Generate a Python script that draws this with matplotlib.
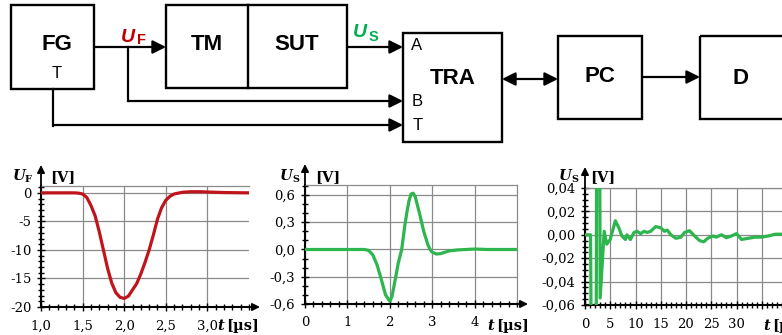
import numpy as np
import matplotlib.pyplot as plt
from matplotlib.ticker import MultipleLocator
from matplotlib.patches import Rectangle

W, H = 782, 335

# --- data ---
uf_t = [1.0, 1.4, 1.45, 1.5, 1.55, 1.6, 1.65, 1.7, 1.75, 1.8, 1.85, 1.9, 1.95, 2.0,
        2.05, 2.1, 2.15, 2.2, 2.25, 2.3, 2.35, 2.4, 2.45, 2.5, 2.55, 2.6, 2.7, 2.8,
        2.9, 3.0, 3.2, 3.5]
uf_v = [0.0, 0.0, -0.05, -0.2, -0.8, -2.2, -4.0, -6.8, -10.0, -13.2, -15.8, -17.5,
        -18.3, -18.5, -18.1, -17.0, -15.9, -14.2, -12.2, -10.0, -7.4, -4.6, -2.6,
        -1.3, -0.6, -0.2, 0.1, 0.2, 0.2, 0.15, 0.05, 0.0]

us_t = [0.0, 1.4, 1.5, 1.6, 1.7, 1.8, 1.9, 2.0, 2.05, 2.1, 2.2, 2.28, 2.35, 2.4, 2.45,
        2.5, 2.55, 2.6, 2.7, 2.8, 2.9, 2.95, 3.0, 3.1, 3.2, 3.3, 3.4, 3.6, 3.8, 4.0,
        4.3, 5.0]
us_v = [0.0, 0.0, -0.01, -0.06, -0.17, -0.33, -0.50, -0.57, -0.52, -0.40, -0.15, 0.0,
        0.25, 0.40, 0.53, 0.61, 0.62, 0.58, 0.40, 0.20, 0.05, 0.0, -0.03, -0.05,
        -0.045, -0.03, -0.015, -0.005, 0.0, 0.005, 0.0, 0.0]

us2_t = [0.0, 1.1, 1.5, 2.0, 2.55, 3.0, 3.8, 4.3, 5.0, 6.0, 6.7, 7.3, 8.0, 8.3, 9.0,
         9.7, 10.3, 11.0, 11.7, 12.3, 13.0, 14.0, 15.0, 15.7, 16.3, 17.0, 18.0, 19.0,
         19.7, 20.7, 21.7, 22.7, 23.5, 24.3, 25.3, 26.0, 27.0, 28.0, 29.0, 30.0, 31.0,
         32.3, 33.7, 35.0, 36.3, 37.7, 39.0, 40.0]
us2_v = [0.0, 0.0, -0.3, -0.57, 0.62, -0.054, 0.003, -0.008, -0.004, 0.012, 0.006,
         -0.001, -0.004, 0.0, -0.004, 0.002, 0.003, 0.001, 0.003, 0.002, 0.003, 0.007,
         0.006, 0.003, 0.004, 0.0, -0.003, -0.002, 0.002, 0.0035, -0.001, -0.005,
         -0.006, -0.003, -0.001, -0.002, 0.0, -0.0025, -0.001, 0.001, -0.004, -0.003,
         -0.002, -0.002, -0.001, 0.0005, 0.0005, 0.0]

uf_xticks = [1.0, 1.5, 2.0, 2.5, 3.0]
uf_yticks = [-20, -15, -10, -5, 0]
us_xticks = [0, 1, 2, 3, 4]
us_yticks = [-0.6, -0.3, 0.0, 0.3, 0.6]
us2_xticks = [0, 5, 10, 15, 20, 25, 30, 35]
us2_yticks = [-0.06, -0.04, -0.02, 0.0, 0.02, 0.04]

RED = '#c00000'
GREEN = '#00b050'
CRED = '#c0141c'
CGREEN = '#2db54e'
SERIF = 'DejaVu Serif'


def comma(v, nd):
    s = f'{v:.{nd}f}'.replace('.', ',')
    if s.startswith('-') and float(s[1:].replace(',', '.')) == 0:
        s = s[1:]
    return s


fig = plt.figure(figsize=(W / 100, H / 100), dpi=100)


def chart(box, xlim, ylim, xt, yt, xminor, yminor, xlab, ylab, t, v, color, lw,
          right_spine=False, xarrow=True):
    l, r, top, bot = box
    ax = fig.add_axes([l / W, (H - bot) / H, (r - l) / W, (bot - top) / H])
    ax.set_facecolor('none')
    ax.plot(t, v, color=color, lw=lw, zorder=3, solid_joinstyle='round')
    ax.set_xlim(*xlim)
    ax.set_ylim(*ylim)
    ax.set_xticks(xt)
    ax.set_xticklabels(xlab, fontfamily=SERIF)
    ax.set_yticks(yt)
    ax.set_yticklabels(ylab, fontfamily=SERIF)
    ax.xaxis.set_minor_locator(MultipleLocator(xminor))
    ax.yaxis.set_minor_locator(MultipleLocator(yminor))
    ax.grid(True, which='major', color='#8a8a8a', lw=0.9)
    for s in ['left', 'bottom']:
        ax.spines[s].set_linewidth(1.5)
        ax.spines[s].set_color('black')
    ax.spines['top'].set_color('#8a8a8a')
    ax.spines['top'].set_linewidth(0.9)
    ax.spines['right'].set_visible(right_spine)
    ax.spines['right'].set_color('#8a8a8a')
    ax.spines['right'].set_linewidth(0.9)
    ax.tick_params(which='both', direction='inout', color='black', width=1,
                   top=False, right=False)
    ax.tick_params(which='major', length=6, labelsize=9.5, pad=4)
    ax.tick_params(axis='x', which='major', pad=6)
    ax.tick_params(which='minor', length=5)
    ax.set_axisbelow(True)
    ap = dict(arrowstyle='-|>', color='black', lw=1.3, mutation_scale=11,
              shrinkA=0, shrinkB=0)
    ax.annotate('', xy=(0, 1 + 21 / (bot - top)), xytext=(0, 1),
                xycoords='axes fraction', arrowprops=ap, annotation_clip=False)
    if xarrow:
        ax.annotate('', xy=(1 + 11 / (r - l), 0), xytext=(1, 0),
                    xycoords='axes fraction', arrowprops=ap, annotation_clip=False)
    return ax


chart((41, 249, 186, 307), (1.0, 3.5), (-20, 1.2), uf_xticks, uf_yticks, 0.1, 1,
      [comma(x, 1) for x in uf_xticks], [str(y) for y in uf_yticks],
      uf_t, uf_v, CRED, 2.3)
chart((305, 517, 185, 304), (0, 5), (-0.6, 0.71), us_xticks, us_yticks, 0.2, 0.1,
      [str(x) for x in us_xticks], [comma(y, 1) for y in us_yticks],
      us_t, us_v, CGREEN, 2.3, right_spine=True)
chart((585, 787, 188, 305), (0, 40), (-0.06, 0.04), us2_xticks, us2_yticks, 1, 0.005,
      [str(x) if x < 35 else '' for x in us2_xticks], [comma(y, 2) for y in us2_yticks],
      us2_t, us2_v, CGREEN, 2.3, xarrow=False)

# --- block diagram and labels in pixel coordinates ---
dg = fig.add_axes([0, 0, 1, 1])
dg.set_xlim(0, W)
dg.set_ylim(H, 0)
dg.axis('off')
dg.set_facecolor('none')

for x0, y0, x1, y1 in [(11, 5, 94, 89), (166, 5, 347, 88), (403, 33, 502, 142),
                       (558, 36, 642, 119), (700, 36, 800, 119)]:
    dg.add_patch(Rectangle((x0, y0), x1 - x0, y1 - y0, fill=False, lw=1.7,
                           ec='black', clip_on=False))
dg.plot([248, 248], [5, 88], color='black', lw=1.7)

SANS = 'Liberation Sans'
for s, x, y in [('FG', 57, 45), ('TM', 207, 45), ('SUT', 297, 45), ('TRA', 453, 79),
                ('PC', 600, 77), ('D', 741, 78)]:
    dg.text(x, y, s, ha='center', va='center', fontsize=16, fontweight='bold',
            fontfamily=SANS)
for s, x, y in [('T', 57, 74), ('A', 417, 46), ('B', 417, 101), ('T', 418, 125)]:
    dg.text(x, y, s, ha='center', va='center', fontsize=12, fontfamily=SANS)

ap = dict(arrowstyle='-|>', color='black', lw=1.6, mutation_scale=20,
          shrinkA=0, shrinkB=0)
dg.annotate('', xy=(166, 47), xytext=(94, 47), arrowprops=ap)
dg.annotate('', xy=(403, 47), xytext=(347, 47), arrowprops=ap)
dg.plot([128, 128], [47, 101], color='black', lw=1.6)
dg.annotate('', xy=(403, 101), xytext=(128, 101), arrowprops=ap)
dg.plot([53, 53], [89, 126], color='black', lw=1.6)
dg.annotate('', xy=(403, 125), xytext=(53, 125), arrowprops=ap)
dg.annotate('', xy=(700, 77), xytext=(642, 77), arrowprops=ap)
dg.annotate('', xy=(558, 79), xytext=(502, 79),
            arrowprops=dict(ap, arrowstyle='<|-|>'))

dg.text(121, 42, 'U', color=RED, fontsize=14, fontweight='bold', fontstyle='italic',
        fontfamily=SANS, va='baseline')
dg.text(137, 44, 'F', color=RED, fontsize=10.5, fontweight='bold', fontfamily=SANS,
        va='baseline')
dg.text(353, 37, 'U', color=GREEN, fontsize=14, fontweight='bold', fontstyle='italic',
        fontfamily=SANS, va='baseline')
dg.text(369, 41, 'S', color=GREEN, fontsize=10.5, fontweight='bold', fontfamily=SANS,
        va='baseline')

# axis titles of the three charts
for ux, sub, vx in [(13, 'F', 50), (280, 'S', 315), (559, 'S', 590)]:
    dg.text(ux, 180, 'U', fontsize=10.5, fontweight='bold', fontstyle='italic',
            fontfamily=SERIF, va='baseline')
    dg.text(ux + 12, 182, sub, fontsize=7, fontweight='bold', fontfamily=SERIF,
            va='baseline')
    dg.text(vx, 181, '[V]', fontsize=10.5, fontweight='bold', fontfamily=SERIF,
            va='baseline')
for tx in [217, 487, 763]:
    dg.text(tx, 330, 't', fontsize=10.5, fontweight='bold', fontstyle='italic',
            fontfamily=SERIF, va='baseline')
    dg.text(tx + 9, 330, '[µs]', fontsize=10.5, fontweight='bold', fontfamily=SERIF,
            va='baseline')

fig.savefig('out.png', dpi=100)
